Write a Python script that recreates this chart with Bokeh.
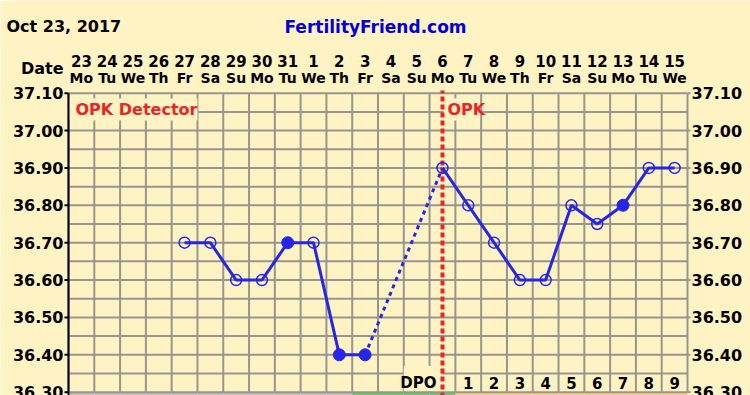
import math
from bokeh.plotting import figure
from bokeh.models import Range1d, ColumnDataSource
from bokeh.embed import file_html
from bokeh.resources import INLINE
from bokeh.core.properties import value

# ---------------- data ----------------
day_numbers = ["23", "24", "25", "26", "27", "28", "29", "30", "31", "1", "2", "3",
               "4", "5", "6", "7", "8", "9", "10", "11", "12", "13", "14", "15"]
weekdays = ["Mo", "Tu", "We", "Th", "Fr", "Sa", "Su", "Mo", "Tu", "We", "Th", "Fr",
            "Sa", "Su", "Mo", "Tu", "We", "Th", "Fr", "Sa", "Su", "Mo", "Tu", "We"]
NaN = float("nan")
temps = [NaN, NaN, NaN, NaN, 36.70, 36.70, 36.60, 36.60, 36.70, 36.70, 36.40, 36.40,
         NaN, NaN, 36.90, 36.80, 36.70, 36.60, 36.60, 36.80, 36.75, 36.80, 36.90, 36.90]
filled = [False, False, False, False, False, False, False, False, True, False, True, True,
          False, False, False, False, False, False, False, False, False, True, False, False]
phase = ["pre"] * 11 + ["fertile"] * 4 + ["post"] * 9
dpo = ["", "", "", "", "", "", "", "", "", "", "", "", "", "DPO",
       "", "1", "2", "3", "4", "5", "6", "7", "8", "9"]
ovulation_index = 14
y_ticks = [36.30, 36.40, 36.50, 36.60, 36.70, 36.80, 36.90, 37.00, 37.10]
y_grid = [36.30, 36.35, 36.40, 36.45, 36.50, 36.55, 36.60, 36.65, 36.70, 36.75,
          36.80, 36.85, 36.90, 36.95, 37.00, 37.05, 37.10]
date_text = "Oct 23, 2017"
site_text = "FertilityFriend.com"
row_title = "Date"
opk_left_text = "OPK Detector"
opk_text = "OPK"

# ---------------- style ----------------
BG = "#FFF3C4"
GRID = "#96968e"
BLUE = "#2626E6"
RED = "#E8262A"
FONT = "DejaVu Sans"
phase_colors = {"pre": "#BEBEBE", "fertile": "#6CC46C", "post": "#F6C88E"}

W, H = 750, 395
LEFT, RIGHT = 68, 687          # plot area edges (px)
Y_TOP_TICK = 92.7              # pixel row of the top tick value
n = len(day_numbers)
px_per_col = (RIGHT - LEFT) / n
px_per_deg = 373.7


def xd(px):
    return -0.5 + (px - LEFT) / px_per_col


def yd(py):
    return y_ticks[-1] + (Y_TOP_TICK - py) / px_per_deg


idx = list(range(n))
x_lo, x_hi = -0.5, n - 0.5
y_lo, y_hi = y_ticks[0], y_ticks[-1]

p = figure(width=W, height=H, output_backend="svg", toolbar_location=None,
           x_range=Range1d(xd(0), xd(W)), y_range=Range1d(yd(H), yd(0)),
           x_axis_location=None, y_axis_location=None,
           min_border_left=0, min_border_right=0, min_border_top=0,
           min_border_bottom=0)
p.background_fill_color = BG
p.border_fill_color = BG
p.outline_line_color = None
p.grid.visible = False

# bottom phase band
band = ColumnDataSource(dict(
    left=[i - 0.5 for i in idx], right=[i + 0.5 for i in idx],
    color=[phase_colors[ph] for ph in phase]))
p.quad(left="left", right="right", bottom=yd(H + 2), top=y_lo, color="color",
       source=band, line_color=None)

# grid
vx = [i - 0.5 for i in range(n + 1)]
p.segment(x0=vx, y0=[y_lo] * len(vx), x1=vx, y1=[y_hi] * len(vx),
          line_color=GRID, line_width=2)
p.segment(x0=[x_lo] * len(y_grid), y0=y_grid, x1=[x_hi] * len(y_grid), y1=y_grid,
          line_color=GRID, line_width=2)

# boxes behind the in-plot labels (hide the grid there)
p.quad(left=[x_lo, xd(443), 12.5], right=[4.5, xd(478), xd(441)],
       bottom=[37.027, 37.027, 36.303], top=[37.086, 37.086, 36.37],
       fill_color=BG, line_color=None)

# left axis line and ticks
p.segment(x0=[x_lo], y0=[yd(H + 2)], x1=[x_lo], y1=[y_hi], line_color="#000000",
          line_width=2)
p.segment(x0=[xd(64)] * len(y_ticks), y0=y_ticks, x1=[x_lo] * len(y_ticks), y1=y_ticks,
          line_color="#000000", line_width=2)
p.segment(x0=[x_hi] * len(y_ticks), y0=y_ticks, x1=[xd(690)] * len(y_ticks), y1=y_ticks,
          line_color=GRID, line_width=2)

# ovulation line
p.segment(x0=[ovulation_index], y0=[yd(H + 2)], x1=[ovulation_index], y1=[yd(90)],
          line_color=RED, line_width=4, line_dash="5 3")

# temperature curve
src = ColumnDataSource(dict(x=idx, y=temps))
p.line("x", "y", source=src, line_color=BLUE, line_width=3)

gap = [i for i in idx if math.isnan(temps[i])
       and any(not math.isnan(t) for t in temps[:i])
       and any(not math.isnan(t) for t in temps[i + 1:])]
if gap:
    a, b = gap[0] - 1, gap[-1] + 1
    p.line([a, b], [temps[a], temps[b]], line_color=BLUE, line_width=3, line_dash="4 4")

open_x = [i for i in idx if not math.isnan(temps[i]) and not filled[i]]
fill_x = [i for i in idx if not math.isnan(temps[i]) and filled[i]]
p.scatter(open_x, [temps[i] for i in open_x], size=11, fill_color=None,
          line_color=BLUE, line_width=1.5)
p.scatter(fill_x, [temps[i] for i in fill_x], size=12, fill_color=BLUE,
          line_color=BLUE)

# ---------------- texts ----------------
txt = dict(text_font=value(FONT), text_font_style="bold", text_baseline="middle")
tick_labels = ["%.2f" % v for v in y_ticks]
p.text([xd(63)] * len(y_ticks), y_ticks, text=tick_labels, text_align="right",
       text_color="#000000", text_font_size="16px", **txt)
p.text([xd(691)] * len(y_ticks), y_ticks, text=tick_labels, text_align="left",
       text_color="#000000", text_font_size="16px", **txt)

p.text([xd(6)], [yd(26)], text=[date_text], text_align="left", text_color="#000000",
       text_font_size="16px", **txt)
p.text([xd(375)], [yd(26)], text=[site_text], text_align="center", text_color="#0000D8",
       text_font_size="17px", **txt)
p.text([xd(63)], [yd(68)], text=[row_title], text_align="right", text_color="#000000",
       text_font_size="16px", **txt)
p.text(idx, [yd(60)] * n, text=day_numbers, text_align="center", text_color="#000000",
       text_font_size="15px", **txt)
p.text(idx, [yd(77.5)] * n, text=weekdays, text_align="center", text_color="#000000",
       text_font_size="14px", **txt)

dpo_x = [i for i in idx if dpo[i] and dpo[i] != "DPO"]
p.text(dpo_x, [36.325] * len(dpo_x), text=[dpo[i] for i in dpo_x],
       text_align="center", text_color="#000000", text_font_size="15px", **txt)
p.text([xd(436)], [36.325], text=[d for d in dpo if d == "DPO"], text_align="right",
       text_color="#000000", text_font_size="15px", **txt)

p.text([xd(75)], [37.0565], text=[opk_left_text], text_align="left", text_color=RED,
       text_font_size="16px", **txt)
p.text([xd(447)], [37.0565], text=[opk_text], text_align="left", text_color=RED,
       text_font_size="16px", **txt)

open("out.html", "w").write(file_html(p, INLINE))
